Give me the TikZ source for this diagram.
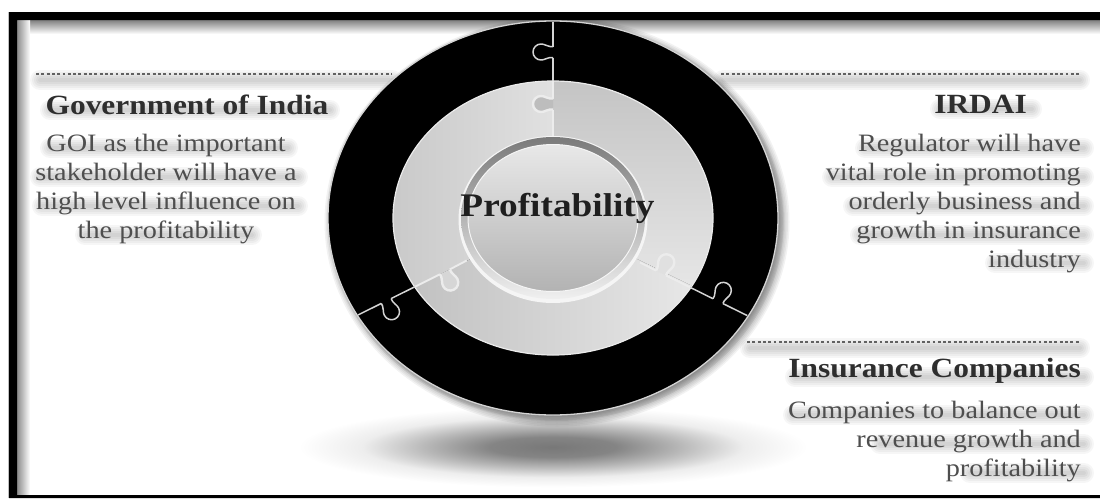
\documentclass[tikz,border=0pt]{standalone}
\usepackage{fontspec}
\setmainfont[FakeStretch=1.13]{Liberation Serif}
\usetikzlibrary{calc}
\definecolor{bodytxt}{HTML}{4E4E4E}
\definecolor{headtxt}{HTML}{2E2E2E}
\definecolor{seam}{HTML}{ECECEC}
\definecolor{rimc}{HTML}{D4D4D4}
\pgfdeclareradialshading{groundshade}{\pgfpointorigin}{
  gray(0bp)=(0.47); gray(6bp)=(0.52); gray(12bp)=(0.72); gray(18bp)=(0.93); gray(24bp)=(1); gray(50bp)=(1)}
\tikzset{
  bodytext/.style={text=bodytxt,font=\fontsize{25}{29.2}\selectfont,inner sep=0pt},
  headtext/.style={text=headtxt,font=\fontsize{27.8}{29}\selectfont\bfseries,inner sep=0pt},
  dotrule/.style={draw=black!62,line width=2.6pt,dash pattern=on 2.9pt off 2.4pt},
  seamline/.style={draw=seam,line width=1.9pt,line join=round},
  rimline/.style={draw=rimc,line width=1.5pt,line join=round},
}
% soft shadow bar behind a text line or a rule
\newcommand{\softbar}[4][0.035]{%
  \foreach \w in {4,8,12,16,20}{%
    \draw[black,opacity=#1,line width=\w pt,line cap=round] (#2,#4) -- (#3,#4);}}
% puzzle-tab outline in a local frame: x along the seam, y towards the tab
\newcommand{\knobpath}{(-5.5,0) -- (-5.5,3) .. controls (-5.5,6) and (-8,8) .. (-8,12)
   arc[start angle=180,end angle=360,x radius=8,y radius=-8]
   .. controls (8,8) and (5.5,6) .. (5.5,3) -- (5.5,0)}
\begin{document}
\begin{tikzpicture}[x=1pt,y=-1pt]
\useasboundingbox (0,0) rectangle (1100,498);
\fill[white] (0,0) rectangle (1100,498);
% frame
\shade[top color=black!50,bottom color=white] (17,20) rectangle (1100,34);
\shade[left color=black!45,right color=white] (17,20) rectangle (30,495);
\fill[black!25] (8,12) rectangle (9,498);
\fill[black] (9,12) -- (1100,12) -- (1100,20) -- (17,20) -- (17,495) -- (1100,495) -- (1100,498) -- (9,498) -- cycle;
% ground shadow
\shade[shading=groundshade] (553,447) ellipse [x radius=265,y radius=42];
% soft shadows of rules and text
\softbar{40}{392}{80}
\softbar{723}{1080}{80}
\softbar{750}{1080}{348}
\softbar{50}{330}{110}
\softbar{50}{288}{148}
\softbar{40}{298}{177}
\softbar{42}{298}{206}
\softbar{85}{252}{235}
\softbar{940}{1032}{109}
\softbar{865}{1084}{148}
\softbar{832}{1084}{177}
\softbar{853}{1084}{206}
\softbar{860}{1084}{235}
\softbar{995}{1084}{263}
\softbar{795}{1084}{377}
\softbar{793}{1084}{415}
\softbar{880}{1084}{444}
\softbar{970}{1084}{473}
% disc shadow
\foreach \k in {0,1,...,7}{
  \fill[black,opacity=0.055] (556,221) ellipse [x radius=228-\k*1.2,y radius=200-\k*1.2];
}
\foreach \k in {1,...,5}{
  \fill[black,opacity=0.05] (557,222) ellipse [x radius=225+\k*1.5,y radius=197+\k*1.5];
}
% outer ring
\fill[black] (553,218) ellipse [x radius=225,y radius=197];
\draw[rimc,line width=1.3pt] (553,218) ellipse [x radius=225,y radius=197];
% inner ring in three shaded sectors
\begin{scope}
  \clip (553,218) ellipse [x radius=160,y radius=137];
  \begin{scope}
    \clip (553,218) -- (553,0) -- (0,0) -- (0,493) -- cycle;
    \shade[left color=black!21,right color=black!12] (393,81) rectangle (553,300);
  \end{scope}
  \begin{scope}
    \clip (553,218) -- (553,0) -- (1100,0) -- (1100,485) -- cycle;
    \shade[top color=black!23,bottom color=black!9] (553,81) rectangle (713,300);
  \end{scope}
  \begin{scope}
    \clip (553,218) -- (0,493) -- (0,498) -- (1100,498) -- (1100,485) -- cycle;
    \shade[left color=black!24,right color=black!9] (415,240) rectangle (700,355);
  \end{scope}
\end{scope}
\draw[black!8,line width=1.2pt] (553,218) ellipse [x radius=160,y radius=137];
% top seam
\draw[rimline] (553,22) -- (553,46.5);
\draw[rimline] (553,57.5) -- (553,81);
\begin{scope}[shift={(553,52)},rotate=-90]
  \draw[rimline] \knobpath;
\end{scope}
\draw[seamline] (553,81) -- (553,99);
\draw[seamline] (553,109.5) -- (553,137);
\begin{scope}[shift={(553,104)},rotate=-90]
  \fill[black!26] \knobpath -- cycle;
  \draw[seam,line width=2.4pt] \knobpath;
\end{scope}
% left seam
\draw[rimline] (358,315) -- (381.3,303.4);
\draw[rimline] (391.2,298.5) -- (415,286.7);
\begin{scope}[shift={(386.2,301)},rotate=26.4]
  \draw[rimline] \knobpath;
\end{scope}
\draw[seamline] (415,286.7) -- (440,274.3);
\draw[seamline] (449.8,269.4) -- (466.7,260.5);
\begin{scope}[shift={(444.9,271.8)},rotate=26.4]
  \fill[black!16] \knobpath -- cycle;
  \draw[seam,line width=2.4pt] \knobpath;
\end{scope}
% right seam
\draw[rimline] (690,287.3) -- (713,298.7);
\draw[rimline] (723,303.6) -- (747.3,315.6);
\begin{scope}[shift={(718,301.1)},rotate=153.7]
  \draw[rimline] \knobpath;
\end{scope}
\draw[seamline] (690,287.3) -- (666,275.5);
\draw[seamline] (656,270.6) -- (640,262.5);
\begin{scope}[shift={(661,273)},rotate=153.7]
  \fill[black!12] \knobpath -- cycle;
  \draw[seam,line width=2.4pt] \knobpath;
\end{scope}
% hub
\fill[white!96!black] (553,219.5) ellipse [x radius=94.5,y radius=83.5];
\shade[top color=black!52,bottom color=black!6] (553,218) ellipse [x radius=92,y radius=81];
\shade[top color=black!9,bottom color=black!30] (553,218) ellipse [x radius=85,y radius=73.5];
\draw[black!4,line width=1pt] (553,218) ellipse [x radius=85,y radius=73.5];
% rules
\draw[dotrule] (36,74) -- (392,74);
\draw[dotrule] (721,74) -- (1081,74);
\draw[dotrule] (747,342) -- (1079,342);
% texts
\node[font=\fontsize{33}{38}\selectfont\bfseries,text=black!88,inner sep=0pt] (hub) at (557.5,208) {Profitability};
\node[headtext] (goi) at (187,105) {Government of India};
\node[bodytext,align=center,anchor=north] (goibody) at (166,133.5) {GOI as the important\\stakeholder will have a\\high level influence on\\the profitability};
\node[headtext,anchor=east] (irdai) at (1027,104) {IRDAI};
\node[bodytext,align=right,anchor=north east] (irdaibody) at (1081,133.5) {Regulator will have\\vital role in promoting\\orderly business and\\growth in insurance\\industry};
\node[headtext,anchor=east] (ins) at (1081,371) {Insurance Companies};
\node[bodytext,align=right,anchor=north east] (insbody) at (1081,400.5) {Companies to balance out\\revenue growth and\\profitability};
\end{tikzpicture}
\end{document}
